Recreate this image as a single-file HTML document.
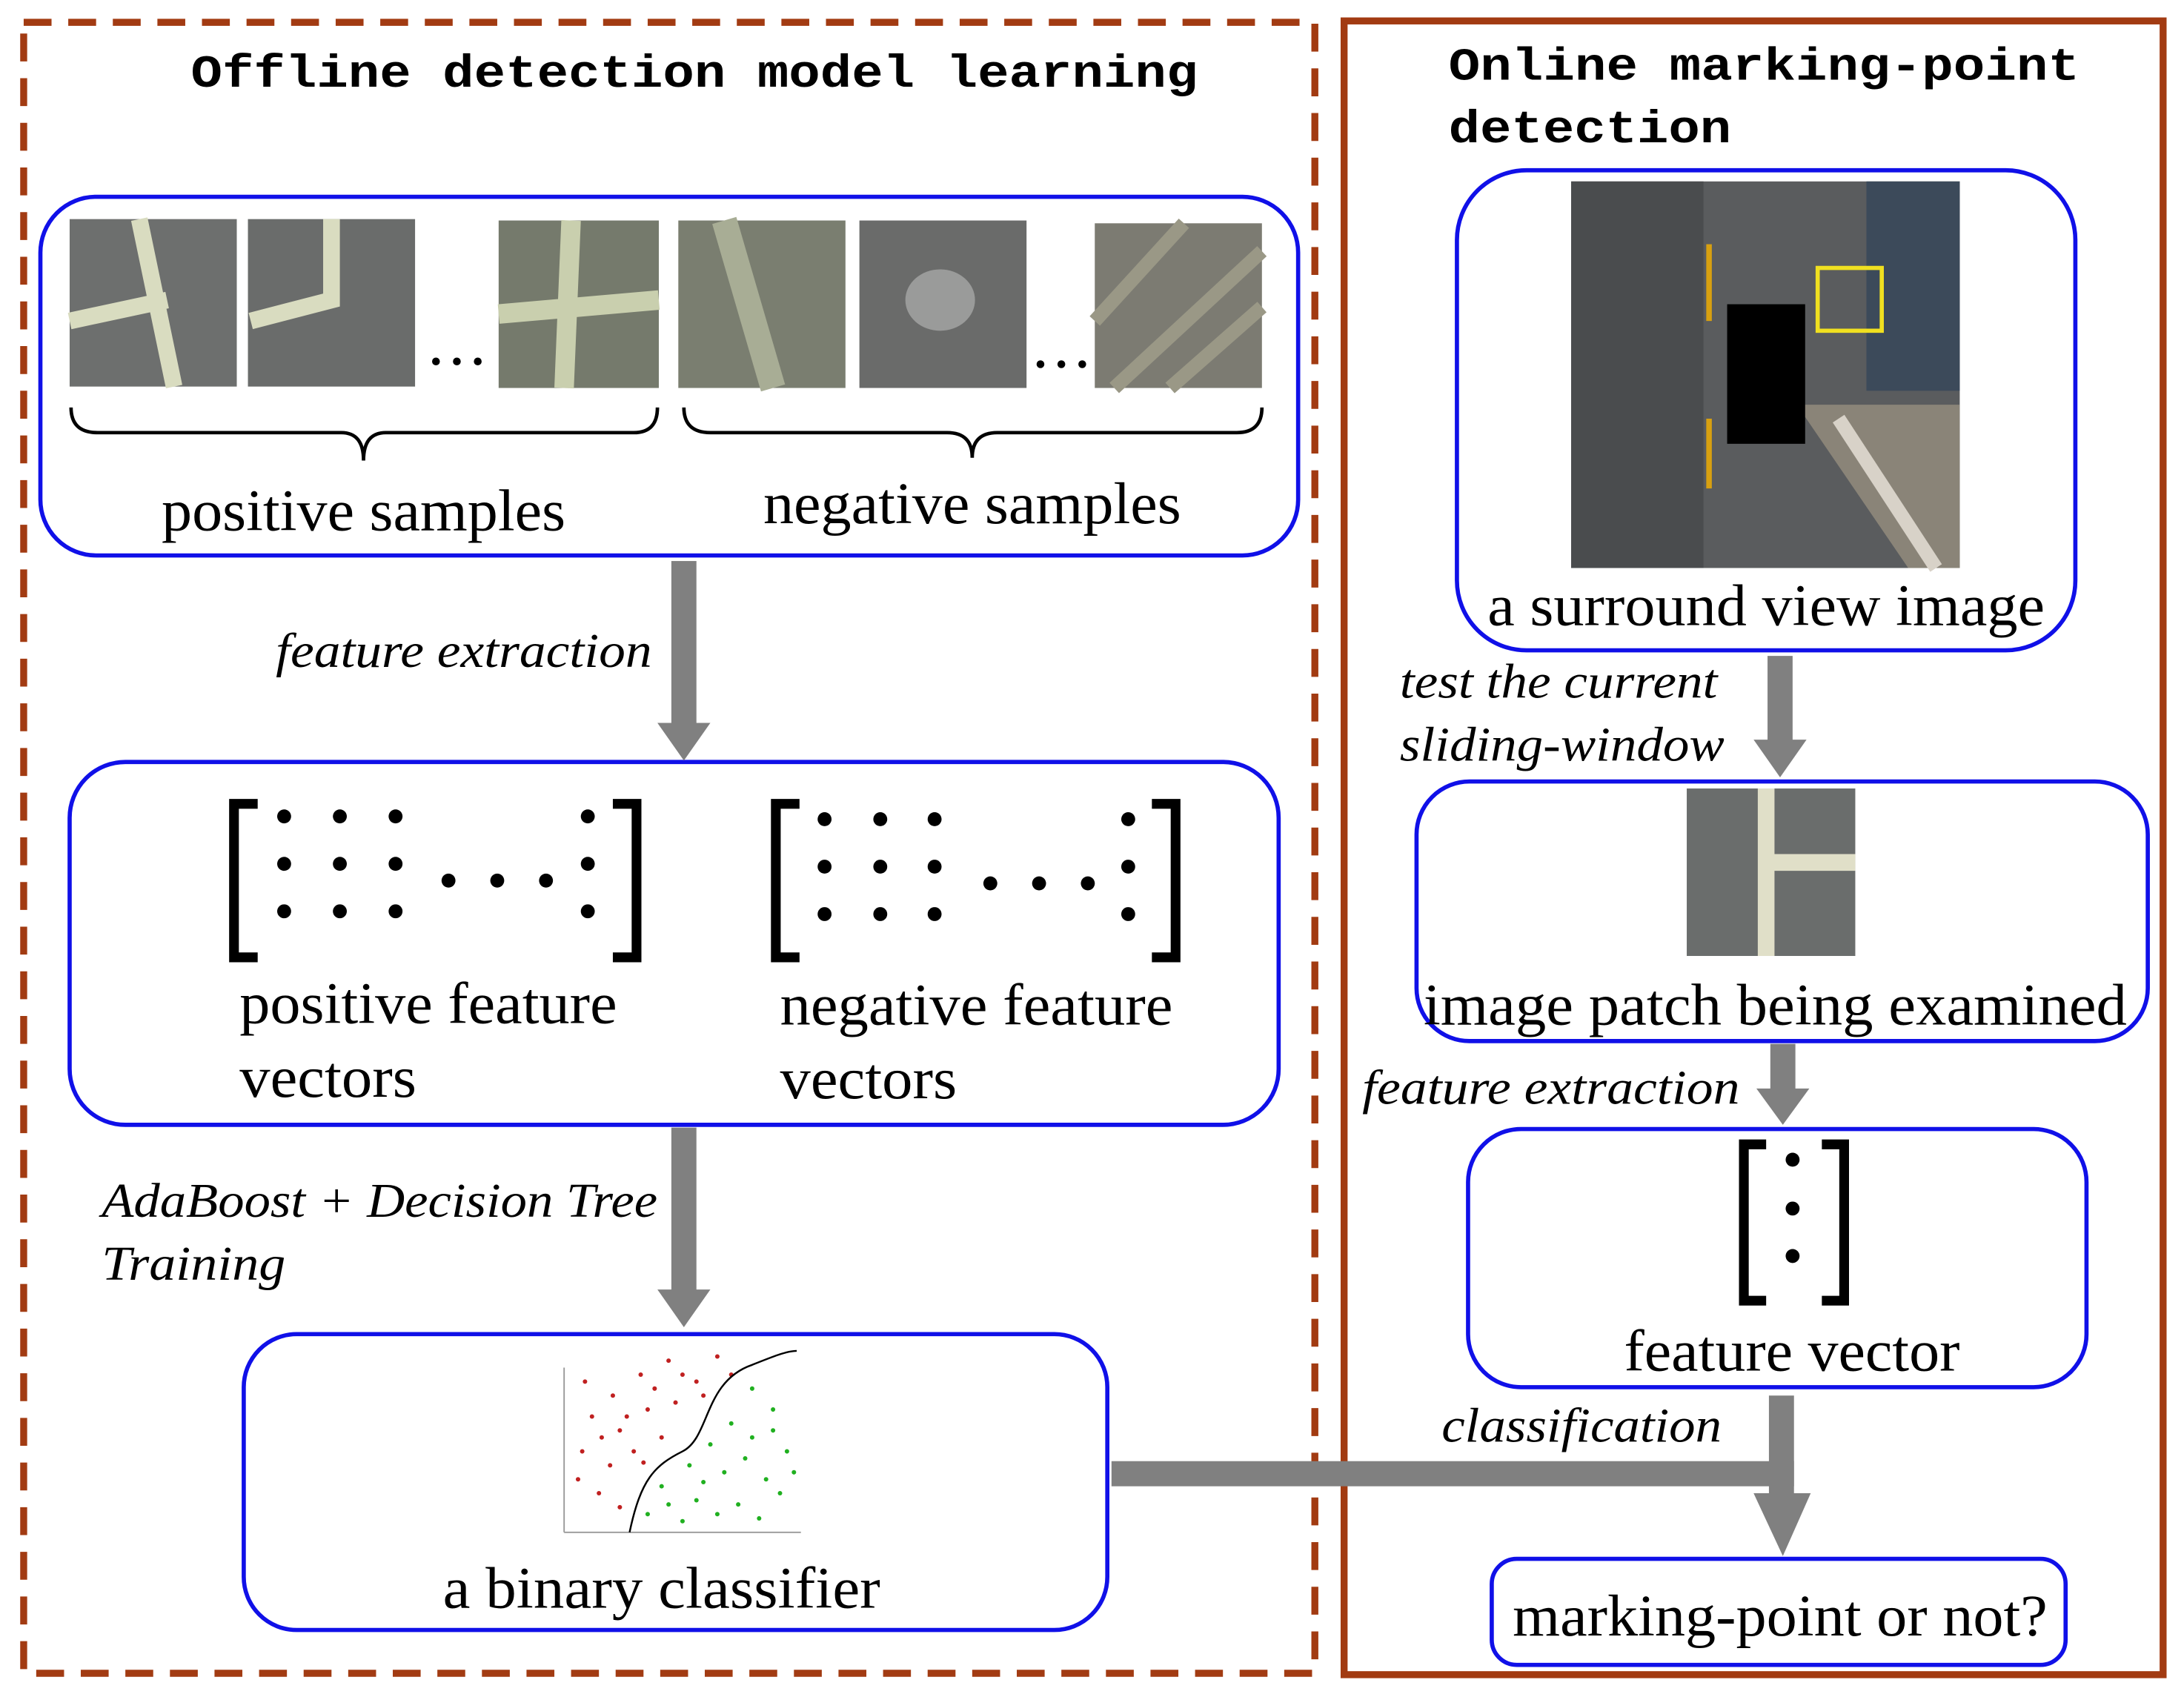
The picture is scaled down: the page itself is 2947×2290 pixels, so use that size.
<!DOCTYPE html>
<html><head><meta charset="utf-8"><style>html,body{margin:0;padding:0;background:#fff}svg{display:block}</style></head>
<body>
<svg width="2947" height="2290" viewBox="0 0 1568 1216" preserveAspectRatio="none" xmlns="http://www.w3.org/2000/svg">
<rect width="1568" height="1216" fill="#fff"/>
<rect x="17" y="16" width="927" height="1183" fill="none" stroke="#a23b12" stroke-width="5" stroke-dasharray="20 12"/>
<rect x="965" y="15" width="588" height="1185" fill="none" stroke="#a23b12" stroke-width="5"/>
<g font-family="Liberation Mono, monospace" font-weight="bold" font-size="33" fill="#000" lengthAdjust="spacingAndGlyphs">
<text x="137" y="62" textLength="723" lengthAdjust="spacingAndGlyphs">Offline detection model learning</text>
<text x="1040" y="57" textLength="453" lengthAdjust="spacingAndGlyphs">Online marking-point</text>
<text x="1040" y="102" textLength="203" lengthAdjust="spacingAndGlyphs">detection</text>
</g>
<g fill="none" stroke="#1010e8" stroke-width="3">
<rect x="29" y="141" width="903" height="257" rx="40"/>
<rect x="50" y="546" width="868" height="260" rx="40"/>
<rect x="175" y="956" width="620" height="212" rx="38"/>
<rect x="1046" y="122" width="444" height="344" rx="50"/>
<rect x="1017" y="560" width="525" height="186" rx="38"/>
<rect x="1054" y="809" width="444" height="185" rx="38"/>
<rect x="1071" y="1117" width="412" height="76" rx="18"/>
</g>
<g>
<rect x="50" y="157" width="120" height="120" fill="#6d6f6e"/><path d="M100 157 L125 277 M50 230 L120 215" stroke="#d9dcc0" stroke-width="12"/>
<rect x="178" y="157" width="120" height="120" fill="#6a6c6b"/><path d="M238 157 L238 215 L180 230" stroke="#d9dcc0" stroke-width="12" fill="none"/>
<rect x="358" y="158" width="115" height="120" fill="#757a6c"/><path d="M410 158 L405 278 M358 225 L473 215" stroke="#c9cfae" stroke-width="14"/>
<rect x="487" y="158" width="120" height="120" fill="#7a7e70"/><path d="M520 158 L555 278" stroke="#a8ad95" stroke-width="18"/>
<rect x="617" y="158" width="120" height="120" fill="#6a6b6a"/><ellipse cx="675" cy="215" rx="25" ry="22" fill="#9a9b9a"/>
<rect x="786" y="160" width="120" height="118" fill="#7c7b72"/><path d="M786 230 L850 160 M800 278 L906 180 M840 278 L906 220" stroke="#9a9886" stroke-width="10"/>
</g>
<g fill="#000">
<circle cx="313" cy="259" r="2.8"/><circle cx="328" cy="259" r="2.8"/><circle cx="343" cy="259" r="2.8"/>
<circle cx="747" cy="261" r="2.8"/><circle cx="762" cy="261" r="2.8"/><circle cx="777" cy="261" r="2.8"/>
</g>
<g fill="none" stroke="#000" stroke-width="2.5">
<path d="M51 292 Q51 310 70 310 L245 310 Q261 310 261 330 Q261 310 277 310 L455 310 Q472 310 472 292"/>
<path d="M491 292 Q491 310 510 310 L680 310 Q698 310 698 328 Q698 310 716 310 L888 310 Q906 310 906 292"/>
</g>
<g font-family="Liberation Serif, serif" font-size="42" fill="#000">
<text x="116" y="380" textLength="290" lengthAdjust="spacingAndGlyphs">positive samples</text>
<text x="548" y="375" textLength="300" lengthAdjust="spacingAndGlyphs">negative samples</text>
<text x="172" y="733" textLength="271" lengthAdjust="spacingAndGlyphs">positive feature</text>
<text x="172" y="786" textLength="127" lengthAdjust="spacingAndGlyphs">vectors</text>
<text x="560" y="734" textLength="282" lengthAdjust="spacingAndGlyphs">negative feature</text>
<text x="560" y="787" textLength="127" lengthAdjust="spacingAndGlyphs">vectors</text>
<text x="318" y="1152" textLength="314" lengthAdjust="spacingAndGlyphs">a binary classifier</text>
<text x="1068" y="448" textLength="400" lengthAdjust="spacingAndGlyphs">a surround view image</text>
<text x="1022" y="734" textLength="505" lengthAdjust="spacingAndGlyphs">image patch being examined</text>
<text x="1166" y="982" textLength="241" lengthAdjust="spacingAndGlyphs">feature vector</text>
<text x="1086" y="1172" textLength="384" lengthAdjust="spacingAndGlyphs">marking-point or not?</text>
</g>
<g font-family="Liberation Serif, serif" font-style="italic" font-size="35" fill="#000">
<text x="198" y="478" textLength="270" lengthAdjust="spacingAndGlyphs">feature extraction</text>
<text x="73" y="872" textLength="399" lengthAdjust="spacingAndGlyphs">AdaBoost + Decision Tree</text>
<text x="73" y="917" textLength="132" lengthAdjust="spacingAndGlyphs">Training</text>
<text x="1005" y="500" textLength="228" lengthAdjust="spacingAndGlyphs">test the current</text>
<text x="1005" y="545" textLength="233" lengthAdjust="spacingAndGlyphs">sliding-window</text>
<text x="978" y="791" textLength="271" lengthAdjust="spacingAndGlyphs">feature extraction</text>
<text x="1035" y="1033" textLength="201" lengthAdjust="spacingAndGlyphs">classification</text>
</g>
<g fill="#808080">
<rect x="482" y="402" width="18" height="118"/><polygon points="472,518 510,518 491,545"/>
<rect x="482" y="808" width="18" height="118"/><polygon points="472,924 510,924 491,951"/>
<rect x="1269" y="470" width="18" height="62"/><polygon points="1259,530 1297,530 1278,557"/>
<rect x="1271" y="748" width="18" height="34"/><polygon points="1261,780 1299,780 1280,806"/>
<rect x="798" y="1047" width="490" height="18"/>
<rect x="1270" y="1000" width="18" height="72"/><polygon points="1259,1070 1300,1070 1280,1115"/>
</g>
<g fill="none" stroke="#000" stroke-width="7">
<path d="M185 576 H168 V686 H185"/><path d="M440 576 H457 V686 H440"/>
<path d="M574 576 H557 V686 H574"/><path d="M827 576 H844 V686 H827"/>
<path d="M1268 820 H1252 V932 H1268"/><path d="M1308 820 H1324 V932 H1308"/>
</g>
<g fill="#000">
<circle cx="204" cy="585" r="5"/><circle cx="244" cy="585" r="5"/><circle cx="284" cy="585" r="5"/><circle cx="422" cy="585" r="5"/>
<circle cx="204" cy="619" r="5"/><circle cx="244" cy="619" r="5"/><circle cx="284" cy="619" r="5"/><circle cx="422" cy="619" r="5"/>
<circle cx="204" cy="653" r="5"/><circle cx="244" cy="653" r="5"/><circle cx="284" cy="653" r="5"/><circle cx="422" cy="653" r="5"/>
<circle cx="322" cy="631" r="5"/><circle cx="357" cy="631" r="5"/><circle cx="392" cy="631" r="5"/>
<circle cx="592" cy="587" r="5"/><circle cx="632" cy="587" r="5"/><circle cx="671" cy="587" r="5"/><circle cx="810" cy="587" r="5"/>
<circle cx="592" cy="621" r="5"/><circle cx="632" cy="621" r="5"/><circle cx="671" cy="621" r="5"/><circle cx="810" cy="621" r="5"/>
<circle cx="592" cy="655" r="5"/><circle cx="632" cy="655" r="5"/><circle cx="671" cy="655" r="5"/><circle cx="810" cy="655" r="5"/>
<circle cx="711" cy="633" r="5"/><circle cx="746" cy="633" r="5"/><circle cx="781" cy="633" r="5"/>
<circle cx="1287" cy="831" r="5"/><circle cx="1287" cy="866" r="5"/><circle cx="1287" cy="900" r="5"/>
</g>
<g>
<line x1="405" y1="980" x2="405" y2="1098" stroke="#999" stroke-width="1"/><line x1="405" y1="1098" x2="575" y2="1098" stroke="#999" stroke-width="1"/>
<g fill="#c02020">
<circle cx="420" cy="990" r="1.6"/><circle cx="440" cy="1000" r="1.6"/><circle cx="460" cy="985" r="1.6"/><circle cx="480" cy="975" r="1.6"/><circle cx="500" cy="990" r="1.6"/><circle cx="515" cy="972" r="1.6"/>
<circle cx="425" cy="1015" r="1.6"/><circle cx="445" cy="1025" r="1.6"/><circle cx="465" cy="1010" r="1.6"/><circle cx="485" cy="1005" r="1.6"/><circle cx="505" cy="1000" r="1.6"/><circle cx="418" cy="1040" r="1.6"/>
<circle cx="438" cy="1050" r="1.6"/><circle cx="455" cy="1040" r="1.6"/><circle cx="475" cy="1030" r="1.6"/><circle cx="430" cy="1070" r="1.6"/><circle cx="445" cy="1080" r="1.6"/><circle cx="415" cy="1060" r="1.6"/>
<circle cx="490" cy="985" r="1.6"/><circle cx="470" cy="995" r="1.6"/><circle cx="450" cy="1015" r="1.6"/><circle cx="432" cy="1030" r="1.6"/><circle cx="462" cy="1048" r="1.6"/><circle cx="525" cy="985" r="1.6"/>
</g>
<g fill="#20b020">
<circle cx="540" cy="995" r="1.6"/><circle cx="555" cy="1010" r="1.6"/><circle cx="525" cy="1020" r="1.6"/><circle cx="510" cy="1035" r="1.6"/><circle cx="540" cy="1030" r="1.6"/><circle cx="565" cy="1040" r="1.6"/>
<circle cx="495" cy="1050" r="1.6"/><circle cx="520" cy="1055" r="1.6"/><circle cx="550" cy="1060" r="1.6"/><circle cx="475" cy="1065" r="1.6"/><circle cx="500" cy="1075" r="1.6"/><circle cx="530" cy="1078" r="1.6"/>
<circle cx="465" cy="1085" r="1.6"/><circle cx="490" cy="1090" r="1.6"/><circle cx="515" cy="1085" r="1.6"/><circle cx="545" cy="1088" r="1.6"/><circle cx="560" cy="1070" r="1.6"/><circle cx="570" cy="1055" r="1.6"/>
<circle cx="535" cy="1045" r="1.6"/><circle cx="505" cy="1062" r="1.6"/><circle cx="480" cy="1078" r="1.6"/><circle cx="555" cy="1025" r="1.6"/>
</g>
<path d="M452 1098 C460 1060 470 1050 490 1040 C510 1030 505 990 540 978 C555 972 565 968 572 968" fill="none" stroke="#000" stroke-width="1.3"/>
</g>
<g>
<rect x="1128" y="130" width="279" height="277" fill="#5a5c5e"/>
<rect x="1128" y="130" width="95" height="277" fill="#4a4c4e"/>
<rect x="1340" y="130" width="67" height="150" fill="#3c4a5a"/>
<polygon points="1290,290 1407,290 1407,407 1370,407" fill="#8a8478"/>
<path d="M1320 300 L1390 407" stroke="#d8d2c8" stroke-width="10"/>
<rect x="1240" y="218" width="56" height="100" fill="#000"/>
<rect x="1225" y="175" width="4" height="55" fill="#d8a010"/><rect x="1225" y="300" width="4" height="50" fill="#d8a010"/>
<rect x="1305" y="192" width="46" height="45" fill="none" stroke="#f0e020" stroke-width="3"/>
</g>
<g>
<rect x="1211" y="565" width="121" height="120" fill="#6a6d6c"/>
<path d="M1268 565 V685 M1272 618 H1332" stroke="#e0dfc8" stroke-width="12"/>
</g>
</svg>
</body></html>
